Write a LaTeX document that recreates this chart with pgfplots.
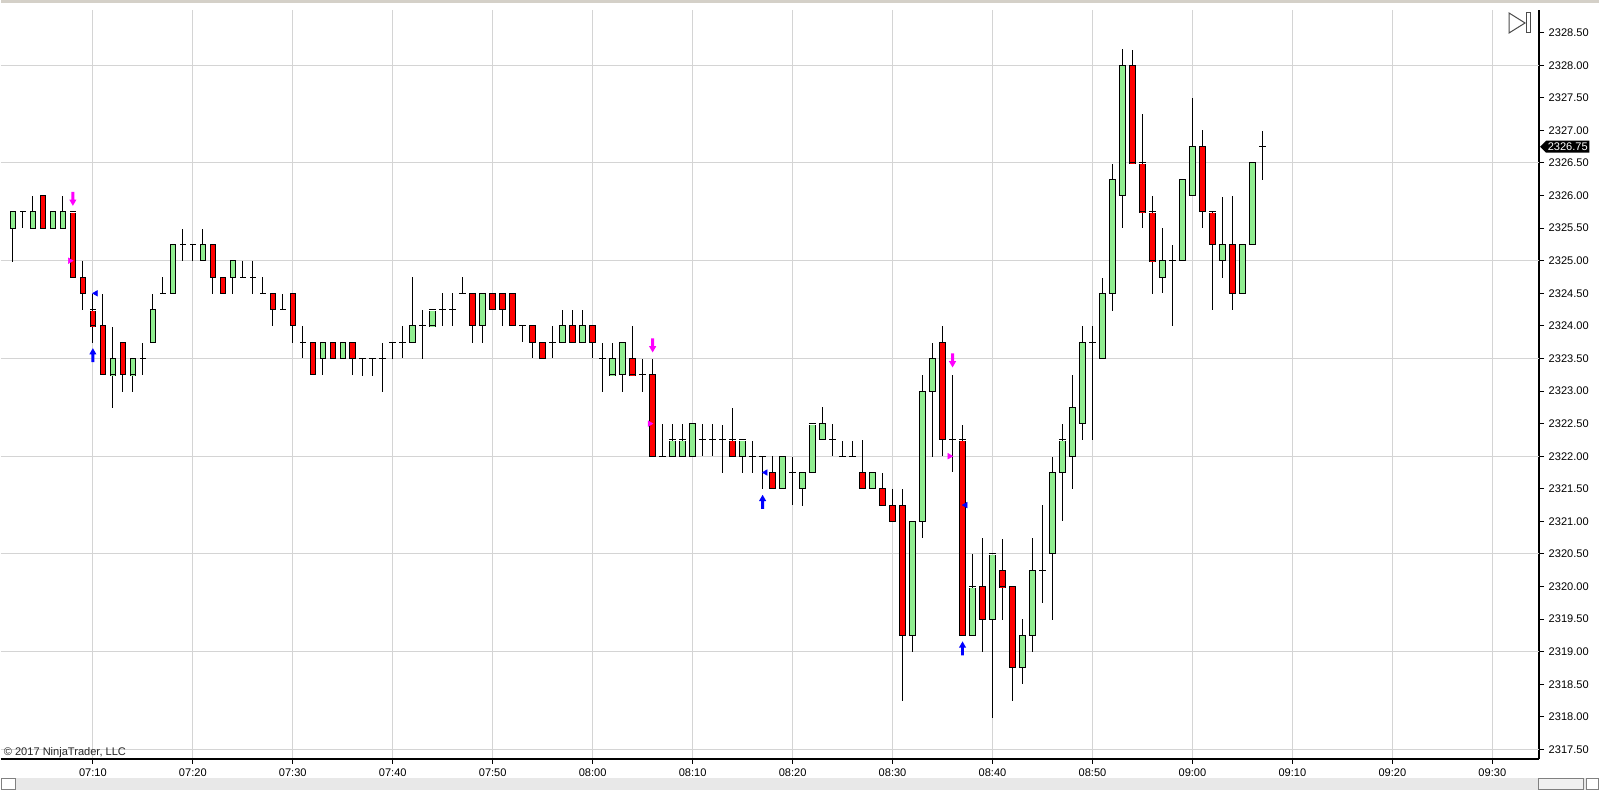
\documentclass[border=0pt]{standalone}
\usepackage{fontspec}
\setmainfont{Liberation Sans}
\usepackage{pgfplots}
\usepackage{pgfplotstable}
\pgfplotsset{compat=1.18}
\usetikzlibrary{shapes.symbols}

\definecolor{bull}{RGB}{144,238,144}
\definecolor{bear}{RGB}{255,0,0}
\definecolor{gridgray}{RGB}{212,212,212}
\definecolor{sigmag}{RGB}{255,0,255}
\definecolor{sigblue}{RGB}{0,0,255}
\definecolor{chrome}{RGB}{212,208,200}
\definecolor{scroll}{RGB}{232,232,232}

% one-minute bars, t = minutes after 07:00
\pgfplotstableread{
t o h l c
2 2325.5 2325.75 2325.0 2325.75
3 2325.75 2325.75 2325.5 2325.75
4 2325.5 2326.0 2325.5 2325.75
5 2326.0 2326.0 2325.5 2325.5
6 2325.5 2325.75 2325.5 2325.75
7 2325.5 2326.0 2325.5 2325.75
8 2325.75 2325.75 2324.75 2324.75
9 2324.75 2325.0 2324.25 2324.5
10 2324.25 2324.5 2323.75 2324.0
11 2324.0 2324.5 2323.25 2323.25
12 2323.25 2324.0 2322.75 2323.5
13 2323.75 2323.75 2323.0 2323.25
14 2323.25 2323.5 2323.0 2323.5
15 2323.5 2323.75 2323.25 2323.5
16 2323.75 2324.5 2323.75 2324.25
17 2324.5 2324.75 2324.5 2324.5
18 2324.5 2325.25 2324.5 2325.25
19 2325.25 2325.5 2325.0 2325.25
20 2325.25 2325.25 2325.0 2325.25
21 2325.0 2325.5 2325.0 2325.25
22 2325.25 2325.25 2324.5 2324.75
23 2324.75 2324.75 2324.5 2324.5
24 2324.75 2325.0 2324.5 2325.0
25 2324.75 2325.0 2324.75 2324.75
26 2324.75 2325.0 2324.5 2324.75
27 2324.5 2324.75 2324.5 2324.5
28 2324.5 2324.5 2324.0 2324.25
29 2324.25 2324.5 2324.25 2324.25
30 2324.5 2324.5 2323.75 2324.0
31 2323.75 2324.0 2323.5 2323.75
32 2323.75 2323.75 2323.25 2323.25
33 2323.5 2323.75 2323.25 2323.75
34 2323.75 2323.75 2323.5 2323.5
35 2323.5 2323.75 2323.5 2323.75
36 2323.75 2323.75 2323.25 2323.5
37 2323.5 2323.5 2323.25 2323.5
38 2323.5 2323.5 2323.25 2323.5
39 2323.5 2323.75 2323.0 2323.5
40 2323.75 2323.75 2323.5 2323.75
41 2323.75 2324.0 2323.5 2323.75
42 2323.75 2324.75 2323.75 2324.0
43 2324.0 2324.25 2323.5 2324.0
44 2324.0 2324.25 2324.0 2324.25
45 2324.25 2324.5 2324.0 2324.25
46 2324.25 2324.5 2324.0 2324.25
47 2324.5 2324.75 2324.5 2324.5
48 2324.5 2324.5 2323.75 2324.0
49 2324.0 2324.5 2323.75 2324.5
50 2324.5 2324.5 2324.25 2324.25
51 2324.5 2324.5 2324.0 2324.25
52 2324.5 2324.5 2324.0 2324.0
53 2324.0 2324.0 2323.75 2324.0
54 2324.0 2324.0 2323.5 2323.75
55 2323.75 2323.75 2323.5 2323.5
56 2323.75 2324.0 2323.5 2323.75
57 2323.75 2324.25 2323.75 2324.0
58 2324.0 2324.25 2323.75 2323.75
59 2323.75 2324.25 2323.75 2324.0
60 2324.0 2324.0 2323.5 2323.75
61 2323.5 2323.75 2323.0 2323.5
62 2323.25 2323.75 2323.25 2323.5
63 2323.25 2323.75 2323.0 2323.75
64 2323.5 2324.0 2323.25 2323.25
65 2323.25 2323.5 2323.0 2323.25
66 2323.25 2323.5 2322.0 2322.0
67 2322.0 2322.5 2322.0 2322.0
68 2322.0 2322.5 2322.0 2322.25
69 2322.0 2322.5 2322.0 2322.25
70 2322.0 2322.5 2322.0 2322.5
71 2322.25 2322.5 2322.0 2322.25
72 2322.25 2322.5 2322.0 2322.25
73 2322.25 2322.5 2321.75 2322.25
74 2322.25 2322.75 2322.0 2322.0
75 2322.0 2322.25 2321.75 2322.25
76 2322.0 2322.25 2321.75 2322.0
77 2322.0 2322.0 2321.5 2322.0
78 2321.75 2322.0 2321.5 2321.5
79 2321.5 2322.0 2321.5 2322.0
80 2321.75 2322.0 2321.25 2321.75
81 2321.5 2321.75 2321.25 2321.75
82 2321.75 2322.5 2321.75 2322.5
83 2322.25 2322.75 2322.25 2322.5
84 2322.25 2322.5 2322.0 2322.25
85 2322.0 2322.25 2322.0 2322.0
86 2322.0 2322.25 2322.0 2322.0
87 2321.75 2322.25 2321.5 2321.5
88 2321.5 2321.75 2321.5 2321.75
89 2321.5 2321.75 2321.25 2321.25
90 2321.25 2321.5 2321.0 2321.0
91 2321.25 2321.5 2318.25 2319.25
92 2319.25 2321.0 2319.0 2321.0
93 2321.0 2323.25 2320.75 2323.0
94 2323.0 2323.75 2322.0 2323.5
95 2323.75 2324.0 2322.0 2322.25
96 2322.25 2323.25 2321.75 2322.25
97 2322.25 2322.5 2319.25 2319.25
98 2319.25 2320.5 2319.25 2320.0
99 2320.0 2320.75 2319.0 2319.5
100 2319.5 2320.5 2318.0 2320.5
101 2320.25 2320.75 2319.5 2320.0
102 2320.0 2320.0 2318.25 2318.75
103 2318.75 2319.5 2318.5 2319.25
104 2319.25 2320.75 2319.0 2320.25
105 2320.25 2321.25 2319.75 2320.25
106 2320.5 2322.0 2319.5 2321.75
107 2321.75 2322.5 2321.0 2322.25
108 2322.0 2323.25 2321.5 2322.75
109 2322.5 2324.0 2322.25 2323.75
110 2323.75 2324.0 2322.25 2323.75
111 2323.5 2324.75 2323.5 2324.5
112 2324.5 2326.5 2324.25 2326.25
113 2326.0 2328.25 2325.5 2328.0
114 2328.0 2328.25 2326.5 2326.5
115 2326.5 2327.25 2325.5 2325.75
116 2325.75 2326.0 2324.5 2325.0
117 2324.75 2325.5 2324.5 2325.0
118 2325.0 2325.25 2324.0 2325.0
119 2325.0 2326.25 2325.0 2326.25
120 2326.0 2327.5 2326.0 2326.75
121 2326.75 2327.0 2325.5 2325.75
122 2325.75 2325.75 2324.25 2325.25
123 2325.0 2326.0 2324.75 2325.25
124 2325.25 2326.0 2324.25 2324.5
125 2324.5 2325.25 2324.5 2325.25
126 2325.25 2326.5 2325.25 2326.5
127 2326.75 2327.0 2326.25 2326.75
}\candles

\pgfdeclareplotmark{dnarrow}{%
  \pgfpathmoveto{\pgfqpoint{-1.1pt}{5.25pt}}%
  \pgfpathlineto{\pgfqpoint{1.1pt}{5.25pt}}%
  \pgfpathlineto{\pgfqpoint{1.1pt}{-0.6pt}}%
  \pgfpathlineto{\pgfqpoint{2.7pt}{-0.6pt}}%
  \pgfpathlineto{\pgfqpoint{0pt}{-5.25pt}}%
  \pgfpathlineto{\pgfqpoint{-2.7pt}{-0.6pt}}%
  \pgfpathlineto{\pgfqpoint{-1.1pt}{-0.6pt}}%
  \pgfpathclose\pgfusepathqfill}
\pgfdeclareplotmark{uparrow}{%
  \pgfpathmoveto{\pgfqpoint{-1.1pt}{-5.25pt}}%
  \pgfpathlineto{\pgfqpoint{1.1pt}{-5.25pt}}%
  \pgfpathlineto{\pgfqpoint{1.1pt}{0.6pt}}%
  \pgfpathlineto{\pgfqpoint{2.7pt}{0.6pt}}%
  \pgfpathlineto{\pgfqpoint{0pt}{5.25pt}}%
  \pgfpathlineto{\pgfqpoint{-2.7pt}{0.6pt}}%
  \pgfpathlineto{\pgfqpoint{-1.1pt}{0.6pt}}%
  \pgfpathclose\pgfusepathqfill}

\newcommand\lblfont{\fontsize{8.3}{10}\selectfont}

\begin{document}
\begin{tikzpicture}
% page frame in screen pixels (1px = 0.75pt)
\begin{scope}[x=0.75pt, y=-0.75pt, shift={(0pt,569.475pt)}]
  \fill[white] (0,0) rectangle (1599,790);
  \path[use as bounding box] (0,0) rectangle (1599,790);
\end{scope}

\begin{axis}[
  at={(0,0)}, anchor=south west,
  scale only axis, width=1154.25pt, height=561.98pt,
  xmin=0.77, xmax=154.67, ymin=2317.353, ymax=2328.848,
  axis x line*=bottom, axis y line*=right,
  axis line style={black, line width=0.9pt},
  tick align=outside, major tick length=3.75pt,
  tick style={black, line width=0.75pt},
  xtick={10,20,30,40,50,60,70,80,90,100,110,120,130,140,150},
  xticklabels={07:10,07:20,07:30,07:40,07:50,08:00,08:10,08:20,08:30,08:40,08:50,09:00,09:10,09:20,09:30},
  xmajorgrids,
  ytick={2317.5,2318,2318.5,2319,2319.5,2320,2320.5,2321,2321.5,2322,2322.5,2323,2323.5,2324,2324.5,2325,2325.5,2326,2326.5,2327,2327.5,2328,2328.5},
  extra y ticks={2317.5,2319,2320.5,2322,2323.5,2325,2326.5,2328},
  extra y tick labels={},
  extra y tick style={ymajorgrids=true, tick style={draw=none}},
  grid style={gridgray, line width=0.75pt},
  tick label style={font=\lblfont, text=black},
  yticklabel style={/pgf/number format/.cd, fixed, fixed zerofill, precision=2, 1000 sep={}, assume math mode=true},
  clip=false,
]

% wicks
\addplot[draw=none, mark=none,
  error bars/.cd, y dir=both, y explicit, error mark=none,
  error bar style={draw=black, line width=0.75pt}]
  table[x=t, y expr={(\thisrow{h}+\thisrow{l})/2}, y error expr={(\thisrow{h}-\thisrow{l})/2}] {\candles};

% body frames
\addplot[draw=none, mark=none,
  error bars/.cd, y dir=both, y explicit, error mark=none,
  error bar style={draw=black, line width=4.9pt}]
  table[x=t, y expr={(\thisrow{o}+\thisrow{c})/2}, y error expr={abs(\thisrow{c}-\thisrow{o})/2}] {\candles};

% up bars
\addplot[draw=none, mark=none,
  restrict expr to domain={\thisrow{c}-\thisrow{o}}{0.1:100},
  error bars/.cd, y dir=both, y explicit, error mark=none,
  error bar style={draw=bull, line width=3.4pt}]
  table[x=t, y expr={(\thisrow{o}+\thisrow{c})/2}, y error expr={abs(\thisrow{c}-\thisrow{o})/2}] {\candles};

% down bars
\addplot[draw=none, mark=none,
  restrict expr to domain={\thisrow{c}-\thisrow{o}}{-100:-0.1},
  error bars/.cd, y dir=both, y explicit, error mark=none,
  error bar style={draw=bear, line width=3.4pt}]
  table[x=t, y expr={(\thisrow{o}+\thisrow{c})/2}, y error expr={abs(\thisrow{c}-\thisrow{o})/2}] {\candles};

% open and close edges (also the doji ticks)
\addplot[draw=none, mark=none,
  error bars/.cd, x dir=both, x explicit, error mark=none,
  error bar style={draw=black, line width=0.75pt}]
  table[x=t, y=o, x error expr={0.327}] {\candles};
\addplot[draw=none, mark=none,
  error bars/.cd, x dir=both, x explicit, error mark=none,
  error bar style={draw=black, line width=0.75pt}]
  table[x=t, y=c, x error expr={0.327}] {\candles};

% signals
\addplot[only marks, mark=dnarrow, color=sigmag] coordinates {(8,2325.95) (66,2323.70) (96,2323.47)};
\addplot[only marks, mark=uparrow, color=sigblue] coordinates {(10,2323.55) (77,2321.30) (97,2319.05)};
\addplot[only marks, mark=triangle*, mark size=2.4pt, mark options={rotate=-90}, color=sigmag]
  coordinates {(7.7,2325) (65.7,2322.5) (95.7,2322)};
\addplot[only marks, mark=triangle*, mark size=2.4pt, mark options={rotate=90}, color=sigblue]
  coordinates {(10.3,2324.5) (77.3,2321.75) (97.3,2321.25)};

% last price
\node[signal, signal to=west, fill=black, text=white, font=\lblfont,
  inner xsep=1.2pt, inner ysep=0.6pt, minimum height=9pt, anchor=west]
  at (axis cs:154.75,2326.75) {2326.75};
\end{axis}

\begin{scope}[x=0.75pt, y=-0.75pt, shift={(0pt,569.475pt)}]
  \fill[chrome] (0,0) rectangle (1599,3);
  \fill[scroll] (0,778) rectangle (1599,790);
  \draw[gray, fill=white, line width=0.75pt] (0.5,778.5) rectangle (15,790);
  \draw[gray, fill=scroll!60!white, line width=0.75pt] (1538.5,778.5) rectangle (1583.5,790);
  \draw[gray, fill=white, line width=0.75pt] (1586.5,778.5) rectangle (1598.5,790);
  \draw[black!70, line width=0.75pt] (1509,13) -- (1525,23) -- (1509,33) -- cycle;
  \draw[black!70, line width=0.75pt] (1526.5,13) rectangle (1530.5,33);
  \node[anchor=base west, font=\lblfont, text=black!85, inner sep=0pt] at (3,756) {© 2017 NinjaTrader, LLC};
\end{scope}
\end{tikzpicture}
\end{document}
